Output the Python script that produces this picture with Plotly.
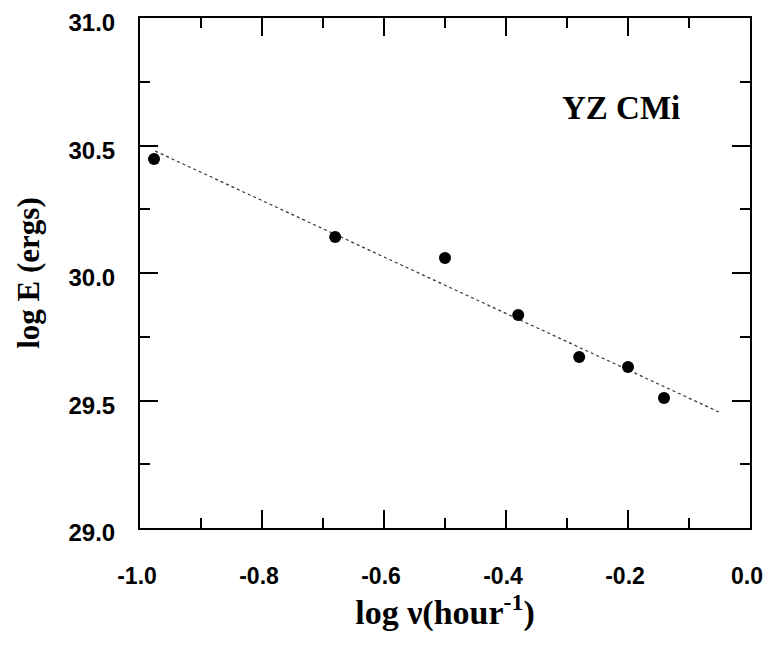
import plotly.graph_objects as go

# flare energy vs flare frequency, YZ CMi
log_nu = [-0.977, -0.680, -0.500, -0.380, -0.280, -0.200, -0.141]
log_E = [30.447, 30.141, 30.059, 29.835, 29.671, 29.631, 29.510]

# fitted line end points
fit_x = [-0.975, -0.051]
fit_y = [30.478, 29.455]

fig = go.Figure()
fig.add_trace(go.Scatter(x=fit_x, y=fit_y, mode="lines",
                         line=dict(color="#333333", width=1.2, dash="dot"),
                         showlegend=False))
fig.add_trace(go.Scatter(x=log_nu, y=log_E, mode="markers",
                         marker=dict(color="black", size=12),
                         showlegend=False))

axis_common = dict(
    showline=True, linecolor="black", linewidth=2, mirror="ticks",
    ticks="inside", ticklen=18, tickwidth=1.5, tickcolor="black",
    showgrid=False, zeroline=False, automargin=False, ticklabeloverflow="allow",
    tickfont=dict(family="Liberation Sans", size=24, color="black", weight="bold"),
)

fig.update_xaxes(range=[-1.0, 0.0], tickvals=[-1.0, -0.8, -0.6, -0.4, -0.2, 0.0],
                 ticktext=["-1.0", "-0.8", "-0.6", "-0.4", "-0.2", "0.0"],
                 ticklabelstandoff=26, ticklabelshift=-3,
                 minor=dict(dtick=0.1, ticks="inside", ticklen=10, tickcolor="black", tickwidth=1.5),
                 title=dict(text="log ν(hour<sup>-1</sup>)", standoff=12,
                            font=dict(family="Liberation Serif", size=34, color="black", weight="bold")),
                 **axis_common)
fig.update_xaxes(tickfont_size=23)
fig.update_yaxes(range=[29.0, 31.0], tickvals=[29.0, 29.5, 30.0, 30.5, 31.0],
                 ticktext=["29.0", "29.5", "30.0", "30.5", "31.0"],
                 ticklabelstandoff=18, ticklabelshift=5,
                 minor=dict(dtick=0.25, ticks="inside", ticklen=10, tickcolor="black", tickwidth=1.5),
                 title=dict(text="log E (ergs)", standoff=20,
                            font=dict(family="Liberation Serif", size=31, color="black", weight="bold")),
                 **axis_common)

fig.add_annotation(x=-0.211, y=30.647, text="YZ CMi", showarrow=False,
                   font=dict(family="Liberation Serif", size=33, color="black", weight="bold"))

# page has an 8px body margin, so keep the figure inside the window
fig.update_layout(width=763, height=638, plot_bgcolor="white", paper_bgcolor="white",
                  margin=dict(l=132, r=21, t=10, b=118))

fig.write_html("out.html")
